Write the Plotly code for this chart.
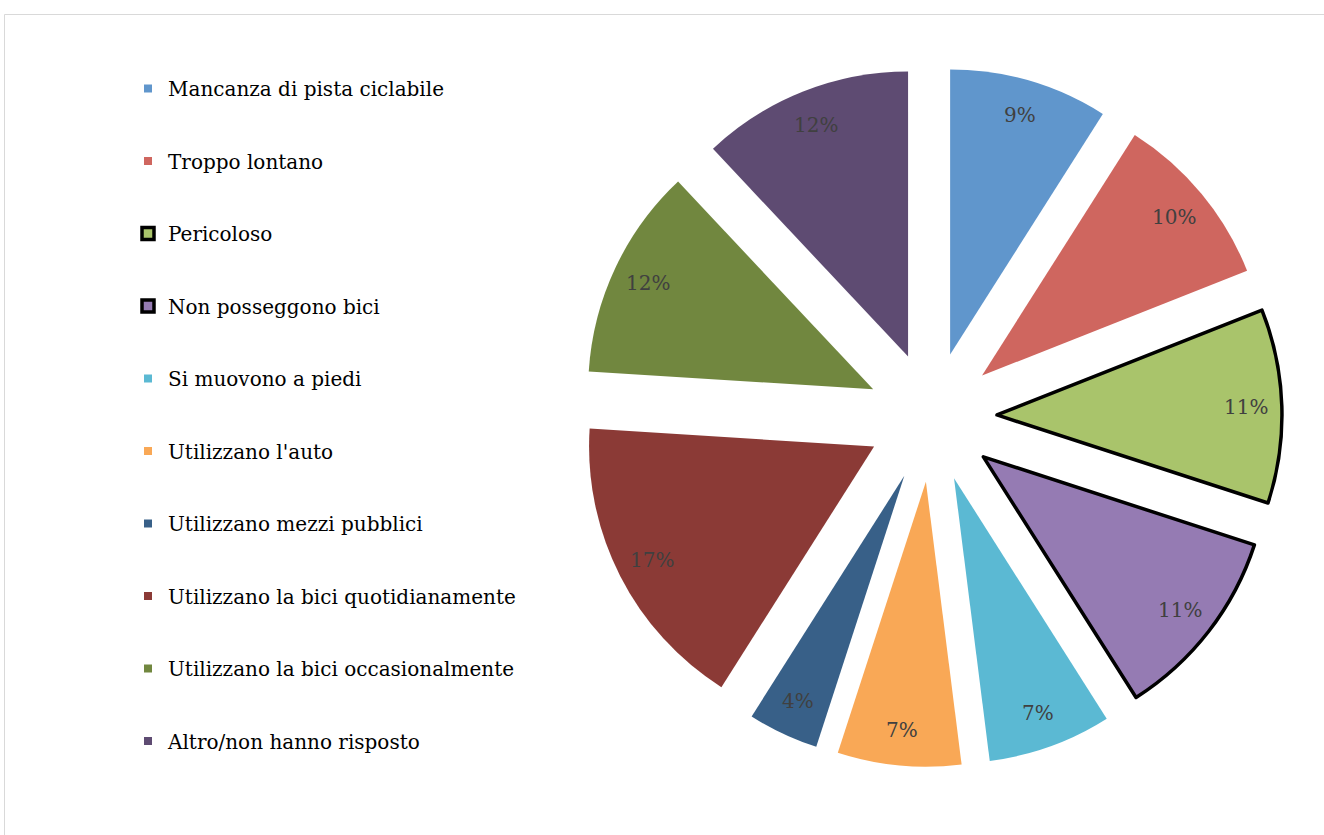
import math
import plotly.graph_objects as go

labels = ["Mancanza di pista ciclabile", "Troppo lontano", "Pericoloso", "Non posseggono bici",
          "Si muovono a piedi", "Utilizzano l'auto", "Utilizzano mezzi pubblici",
          "Utilizzano la bici quotidianamente", "Utilizzano la bici occasionalmente",
          "Altro/non hanno risposto"]
values = [9, 10, 11, 11, 7, 7, 4, 17, 12, 12]
colors = ["#6096CC", "#CF665F", "#A9C46B", "#957BB3", "#5BB9D3", "#F9A856",
          "#386088", "#8B3A36", "#71873F", "#5E4B72"]
outlined = [False, False, True, True, False, False, False, False, False, False]

W, H = 1324, 835
cx, cy = 932, 417          # pie centre in pixels (from top-left)
half = 350                 # half size of pie box in pixels
pull = 0.228
font_family = "DejaVu Serif"

dom_x = [(cx - half) / W, (cx + half) / W]
dom_y = [(H - cy - half) / H, (H - cy + half) / H]

fig = go.Figure()
fig.add_trace(go.Pie(
    labels=labels, values=values, sort=False, direction="clockwise", rotation=0,
    pull=[pull] * len(values),
    marker=dict(colors=colors,
                line=dict(color=["#000000" if o else "rgba(0,0,0,0)" for o in outlined],
                          width=[3.5 if o else 0 for o in outlined])),
    textinfo="none", hoverinfo="label+percent", showlegend=False,
    domain=dict(x=dom_x, y=dom_y),
))

# percentage labels placed along each slice's mid-angle
r = half / (1 + pull)
total = sum(values)
cum = 0
for v in values:
    mid = (cum + v / 2) / total * 2 * math.pi
    cum += v
    dist = pull * r + 0.875 * r
    px = cx + math.sin(mid) * dist
    py = (H - cy) + math.cos(mid) * dist
    fig.add_annotation(x=px / W, y=py / H, xref="paper", yref="paper",
                       xanchor="center", yanchor="middle",
                       text=f"{round(v / total * 100)}%", showarrow=False,
                       font=dict(family=font_family, size=20, color="#404040"))

# legend entries
for lab, col, o in zip(labels, colors, outlined):
    fig.add_trace(go.Scatter(
        x=[None], y=[None], mode="markers", name=lab, legendgroup=lab,
        marker=dict(symbol="square", size=12 if o else 8, color=col,
                    line=dict(color="#000000", width=3.5 if o else 0)),
    ))

fig.add_shape(type="rect", xref="paper", yref="paper",
              x0=4.5 / W, x1=1.02, y0=-0.02, y1=(H - 14.5) / H,
              line=dict(color="#D9D9D9", width=1), fillcolor="rgba(0,0,0,0)", layer="below")

fig.update_layout(
    width=W, height=H, margin=dict(l=0, r=0, t=0, b=0),
    paper_bgcolor="white", plot_bgcolor="white",
    xaxis=dict(visible=False), yaxis=dict(visible=False),
    legend=dict(x=128 / W, y=(H - 69) / H, xanchor="left", yanchor="top",
                traceorder="grouped", tracegroupgap=43.5, itemwidth=30,
                font=dict(family=font_family, size=20, color="#000000"),
                bgcolor="rgba(0,0,0,0)"),
    font=dict(family=font_family),
)

fig.write_html("out.html", config={"displayModeBar": False},
               post_script="document.body.style.margin='0';")
